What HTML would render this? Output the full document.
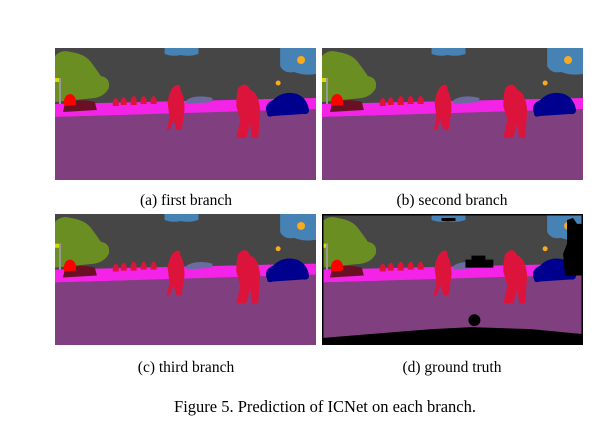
<!DOCTYPE html>
<html><head><meta charset="utf-8"><style>
html,body{margin:0;padding:0;background:#fff;width:616px;height:443px;overflow:hidden}
svg text{font-family:"Liberation Serif",serif;fill:#000}
</style></head><body>
<svg width="616" height="443" viewBox="0 0 616 443">
<defs>
<g id="scene">
  <rect x="0" y="0" width="262" height="132" fill="#464646"/>
  <path d="M110,0 H144 V6 Q135,9 126,7 Q118,9 110,6 Z" fill="#4682b4"/>
  <path d="M226,0 H262 V26 Q250,28 240,24 Q230,26 226,18 Z" fill="#4682b4"/>
  <circle cx="247" cy="12" r="4" fill="#faaa1e"/>
  <circle cx="224" cy="35" r="2.5" fill="#faaa1e"/>
  <path d="M0,8 Q6,1 16,4 Q30,6 36,14 Q42,22 46,28 Q56,30 54,40 Q50,48 40,50 L0,54 Z" fill="#6b8e23"/>
  <rect x="0" y="30" width="6" height="4" fill="#dcdc00"/>
  <rect x="4" y="30" width="2" height="34" fill="#999"/>
  <path d="M0,56 L262,50 L262,62 L0,69 Z" fill="#f423e8"/>
  <path d="M0,69 L262,61 L262,132 L0,132 Z" fill="#80407f"/>
  <path d="M8,64 L10,55 Q26,50 40,54 L42,62 Z" fill="#6b0f24"/>
  <path d="M9,58 Q8,46 16,46 Q22,48 21,57 Z" fill="#ff0000"/>
  <path d="M58,54 q3,-8 6,0 v4 h-6z M66,53 q3,-8 6,0 v4 h-6z M76,52 q3,-8 6,0 v5 h-6z M86,52 q3,-8 6,0 v4 h-6z M96,52 q3,-8 6,0 v4 h-6z M188,51 q3,-6 6,0 v3 h-6z" fill="#dc143c"/>
  <path d="M120,38 q6,-4 6,4 q4,6 4,20 l-3,20 h-5 l-3,-10 l-4,10 h-3 l3,-12 l-2,-16 q2,-12 7,-16z" fill="#dc143c"/>
  <path d="M184,40 q8,-8 12,2 q8,2 10,20 l-2,28 h-6 l-2,-14 l-4,14 h-10 l4,-18 l-4,-14 q0,-12 2,-18z" fill="#dc143c"/>
  <path d="M213,66 q-4,-10 6,-14 q10,-10 24,-6 q10,4 12,16 q0,5 -6,4 l-30,2 q-6,2 -6,-2z" fill="#00008e"/>
  <path d="M132,52 q10,-6 26,-2 l0,4 l-26,2z" fill="#6b6ba0"/>
</g>
</defs>
<g>
  <svg x="55" y="48" width="261" height="132" viewBox="0 0 262 132" preserveAspectRatio="none"><use href="#scene"/></svg>
</g>
<g>
  <svg x="322" y="48" width="261" height="132" viewBox="0 0 262 132" preserveAspectRatio="none"><use href="#scene"/></svg>
</g>
<g>
  <svg x="55" y="214" width="261" height="131" viewBox="0 0 262 132" preserveAspectRatio="none"><use href="#scene"/></svg>
</g>
<g>
  <svg x="322" y="214" width="261" height="131" viewBox="0 0 262 132" preserveAspectRatio="none">
    <use href="#scene"/>
    <rect x="0" y="0" width="262" height="132" fill="none" stroke="#000" stroke-width="3"/>
    <path d="M0,125 L60,120 L110,116 L150,114 L210,116 L262,121 V132 H0 Z" fill="#000"/>
    <circle cx="153" cy="107" r="6" fill="#000"/>
    <path d="M246,6 L252,4 L256,10 L262,10 V62 L244,62 L242,40 L246,30 Z" fill="#000"/>
    <path d="M144,46 h6 v-4 h14 v4 h8 v8 h-28z" fill="#000"/>
    <rect x="120" y="4" width="14" height="3" fill="#000"/>
  </svg>
</g>
<text x="186" y="205" font-size="15.5" text-anchor="middle">(a) first branch</text>
<text x="452" y="205" font-size="15.5" text-anchor="middle">(b) second branch</text>
<text x="186" y="372" font-size="15.5" text-anchor="middle">(c) third branch</text>
<text x="452" y="372" font-size="15.5" text-anchor="middle">(d) ground truth</text>
<text x="325" y="412" font-size="16.5" text-anchor="middle">Figure 5. Prediction of ICNet on each branch.</text>
</svg>
</body></html>
